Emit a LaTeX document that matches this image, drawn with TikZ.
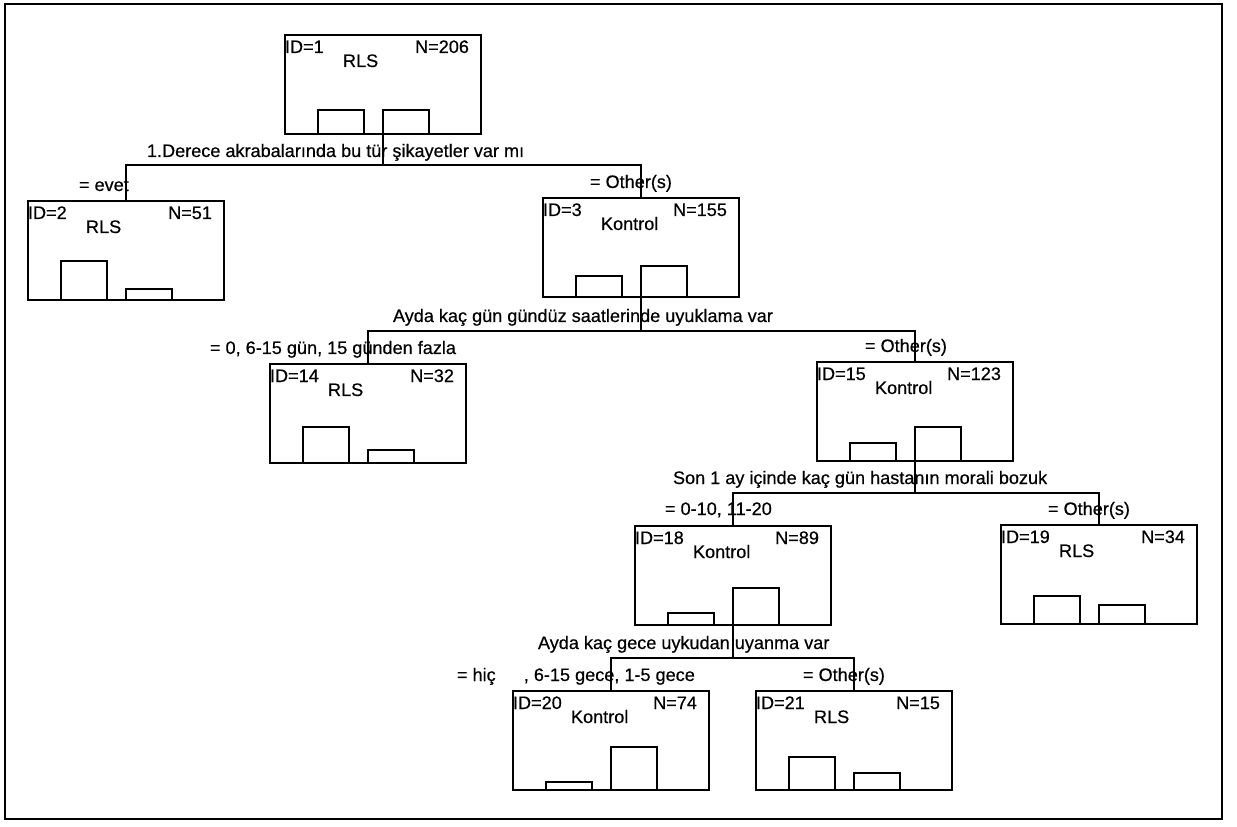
\documentclass[tikz,border=0pt]{standalone}
\usepackage{fontspec}
\setmainfont{Liberation Sans}[FakeBold=0.5]
\usetikzlibrary{calc}

\begin{document}
\begin{tikzpicture}[x=0.02cm,y=-0.02cm,font=\fontsize{10.3}{12}\selectfont,
  box/.style={draw,line width=1.2pt,minimum width=3.92cm,minimum height=1.98cm,
    inner sep=0,outer sep=0,anchor=north west},
  txt/.style={inner sep=0,outer sep=0},
  bar/.style={line width=1pt},
  link/.style={line width=0.9pt}]
\useasboundingbox (0,0) rectangle (1237,827);
\draw[line width=1.2pt] (5,4) rectangle (1222,819);
% tree nodes: name/left/top/ID/class/N/bar heights
\foreach \nm/\x/\y/\id/\cl/\n/\ha/\hb in {1/285/35/1/RLS/206/24/24,
    2/28/201/2/RLS/51/39/11, 3/543/198/3/Kontrol/155/21/31,
    14/270/364/14/RLS/32/36/13, 15/817/362/15/Kontrol/123/18/34,
    18/635/526/18/Kontrol/89/12/37, 19/1001/525/19/RLS/34/28/19,
    20/513/691/20/Kontrol/74/8/43, 21/756/691/21/RLS/15/33/17}{
  \node[box] (n\nm) at (\x,\y) {};
  \node[txt,anchor=base west] (id\nm) at ($(n\nm.north west)+(0,18)$) {ID=\id};
  \node[txt,anchor=base east] (nn\nm) at ($(n\nm.north east)+(-12,18)$) {N=\n};
  \node[txt,anchor=base west] (cl\nm) at ($(n\nm.north west)+(58,32)$) {\cl};
  \draw[bar] ($(n\nm.south west)+(33,0)$) rectangle ++(46,-\ha);
  \draw[bar] (n\nm.south) rectangle ++(46,-\hb);
}
% split points
\coordinate (s1) at ($(n1.south)+(0,31)$);
\coordinate (s3) at ($(n3.south)+(0,34)$);
\coordinate (s15) at ($(n15.south)+(0,32)$);
\coordinate (s18) at ($(n18.south)+(0,33)$);
\draw[link] (n1.south) -- (s1);
\draw[link] (n2.north) |- (s1) -| (n3.north);
\draw[link] (n3.south) -- (s3);
\draw[link] (n14.north) |- (s3) -| (n15.north);
\draw[link] (n15.south) -- (s15);
\draw[link] (n18.north) |- (s15) -| (n19.north);
\draw[link] (n18.south) -- (s18);
\draw[link] (n20.north) |- (s18) -| (n21.north);
% split questions
\node[txt,anchor=base west] (q1) at (147,157) {1.Derece akrabalarında bu tür şikayetler var mı};
\node[txt,anchor=base west] (q3) at (393,322) {Ayda kaç gün gündüz saatlerinde uyuklama var};
\node[txt,anchor=base west] (q15) at (673,484) {Son 1 ay içinde kaç gün hastanın morali bozuk};
\node[txt,anchor=base west] (q18) at (538,649) {Ayda kaç gece uykudan uyanma var};
% branch values
\node[txt,anchor=base west] (b2) at (79,191) {= evet};
\node[txt,anchor=base west] (b3) at (590,188) {= Other(s)};
\node[txt,anchor=base west] (b14) at (210,354) {= 0, 6-15 gün, 15 günden fazla};
\node[txt,anchor=base west] (b15) at (865,352) {= Other(s)};
\node[txt,anchor=base west] (b18) at (665,515) {= 0-10, 11-20};
\node[txt,anchor=base west] (b19) at (1048,515) {= Other(s)};
\node[txt,anchor=base west] (b20) at (457,681) {= hiç\hspace{16pt}, 6-15 gece, 1-5 gece};
\node[txt,anchor=base west] (b21) at (803,681) {= Other(s)};
\end{tikzpicture}
\end{document}
